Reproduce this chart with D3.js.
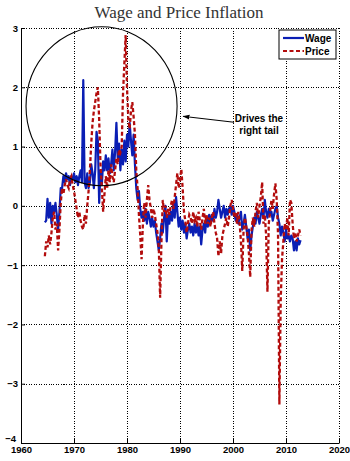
<!DOCTYPE html>
<html>
<head>
<meta charset="utf-8">
<script src="https://cdn.jsdelivr.net/npm/d3@7"></script>
<style>
  html, body { margin: 0; padding: 0; background: #fff; }
  svg { display: block; }
  .tick text { font-family: "Liberation Sans", Arial, sans-serif; font-weight: bold; font-size: 9.5px; fill: #000; }
</style>
</head>
<body>
<div id="chart"></div>
<script>
// quarterly series, first value at the start year
const wageStart = 1964.5;
const wageValues = [
  -0.28, -0.25,
  0.12, -0.2, 0.05, -0.3,
  0.0, -0.1, 0.05, -0.15,
  -0.4, -0.1, 0.3, 0.3,
  0.5, 0.4, 0.55, 0.45,
  0.5, 0.35, 0.5, 0.45,
  0.55, 0.4, 0.5, 0.35,
  0.5, 0.6, 0.4, 2.12,
  0.4, 0.3, 0.55, 0.3,
  0.4, 0.7, 0.55, 0.3,
  0.6, 1.25, 1.1, 0.05,
  0.6, 0.35, 0.75, 0.6,
  0.85, 0.6, 0.8, 0.55,
  0.7, 0.95, 0.6, 0.9,
  1.4, 0.8, 1.05, 0.6,
  0.95, 0.7, 1.1, 0.75,
  1.2, 1.0, 1.4, 1.1,
  0.85, 1.2, 0.7, 0.3,
  0.1, 0.25, -0.05, -0.2,
  -0.1, -0.25, -0.05, -0.3,
  -0.1, -0.2, -0.35, -0.2,
  -0.35, -0.25, -0.45, -0.6,
  -0.75, -0.55, -0.3, -0.45,
  -0.2, 0.0, -0.6, -0.15,
  -0.3, -0.1, -0.25, 0.05,
  -0.2, 0.15, -0.1, -0.35,
  -0.2, -0.4, -0.25, -0.45,
  -0.3, -0.55, -0.4, -0.3,
  -0.45, -0.35, -0.5, -0.3,
  -0.45, -0.3, -0.5, -0.35,
  -0.65, -0.4, -0.3, -0.45,
  -0.2, -0.35, -0.15, -0.3,
  -0.15, -0.25, -0.05, -0.2,
  -0.1, 0.1, -0.05, -0.2,
  -0.1, 0.0, -0.2, -0.05,
  -0.15, -0.05, 0.0, -0.15,
  0.0, -0.1, -0.25, -0.15,
  -0.3, -0.2, -0.1, -0.4,
  -0.3, -0.15, -0.35, -0.55,
  -0.4, -0.75, -0.5, -0.35,
  -0.2, -0.3, -0.1, -0.2,
  -0.3, -0.15, -0.05, -0.2,
  0.1, -0.1, -0.2, -0.05,
  -0.15, -0.1, -0.25, -0.15,
  -0.05, 0.0, -0.2, -0.3,
  -0.5, -0.35, -0.45, -0.6,
  -0.4, -0.55, -0.5, -0.6,
  -0.5, -0.55, -0.75, -0.6,
  -0.75, -0.55, -0.65, -0.58
];

const priceStart = 1964.5;
const priceValues = [
  -0.85, -0.6,
  -0.7, -0.5, -0.65, -0.45,
  -0.2, -0.1, -0.4, -0.3,
  -0.75, -0.4, 0.05, 0.3,
  0.2, 0.35, 0.45, 0.35,
  0.3, 0.45, 0.5, 0.35,
  0.25, 0.1, -0.05, -0.2,
  -0.1, -0.25, -0.35, -0.4,
  -0.15, -0.3, 0.0, 0.25,
  0.6, 1.05, 1.4, 1.6,
  1.75, 1.9, 2.0, 1.45,
  0.7, 0.3, -0.1, 0.2,
  0.5, 0.3, 0.6, 0.4,
  0.7, 0.5, 0.4, 0.6,
  0.8, 0.7, 0.95, 0.9,
  1.0, 1.9, 2.4, 2.88,
  2.0, 1.45, 1.3, 1.6,
  1.75, 1.5, 1.2, 0.6,
  0.3, -0.15, -0.5, -0.9,
  -0.3, 0.05, -0.2, 0.1,
  0.35, 0.1, -0.05, -0.2,
  -0.05, -0.15, -0.3, -0.45,
  -0.7, -1.55, -0.6, 0.1,
  -0.1, 0.0, -0.2, -0.05,
  -0.15, 0.0, 0.1, -0.05,
  0.15, 0.35, 0.55, 0.3,
  0.45, 0.62, 0.3, -0.1,
  -0.25, -0.45, -0.3, -0.15,
  -0.2, -0.3, -0.1, -0.25,
  -0.2, -0.35, -0.1, -0.25,
  -0.4, -0.2, -0.05, -0.3,
  -0.15, -0.3, -0.2, -0.35,
  -0.2, -0.1, -0.3, -0.45,
  -0.55, -0.85, -0.6, -0.8,
  -0.5, -0.4, -0.3, -0.2,
  -0.35, -0.2, 0.0, 0.1,
  -0.05, -0.2, -0.1, -0.3,
  -0.1, -0.3, -0.6, -1.1,
  -0.4, -0.2, -0.35, -0.5,
  -0.8, -1.2, -0.4, -0.2,
  -0.35, -0.1, 0.05, -0.2,
  0.0, 0.15, 0.4, -0.3,
  -0.15, -0.5, -1.45, -0.3,
  -0.1, 0.1, -0.05, 0.2,
  0.38, 0.1, -0.5, -3.35,
  -1.6, -0.9, -0.6, -0.3,
  -0.4, -0.2, -0.5, 0.1,
  0.05, -0.3, -0.55, -0.45,
  -0.6, -0.5, -0.4, -0.5
];

const xTicks = [1960, 1970, 1980, 1990, 2000, 2010, 2020];
const yTicks = [-4, -3, -2, -1, 0, 1, 2, 3];

// annotation in data units
const circleCenter = [1975.2, 1.68];
const circleRadius = [14.25, 1.34];
const arrowFrom = [2000.2, 1.41];
const arrowTo = [1990.6, 1.51];
const noteLines = ['Drives the', 'right tail'];
const noteAt = [2004.9, 1.41];

const W = 350, H = 461;
const x = d3.scaleLinear().domain([1960, 2020]).range([21, 339]);
const y = d3.scaleLinear().domain([-4, 3]).range([443, 28]);

const svg = d3.select('#chart').append('svg')
  .attr('width', W)
  .attr('height', H);

svg.append('defs').append('marker')
  .attr('id', 'head')
  .attr('viewBox', '0 0 10 10')
  .attr('refX', 9).attr('refY', 5)
  .attr('markerWidth', 7).attr('markerHeight', 7)
  .attr('orient', 'auto')
  .append('path')
  .attr('d', 'M0,1.5 L10,5 L0,8.5 Z')
  .attr('fill', '#000');

svg.append('text')
  .attr('x', 179).attr('y', 17.5)
  .attr('text-anchor', 'middle')
  .attr('font-family', '"Liberation Serif", "Times New Roman", serif')
  .attr('font-size', 17)
  .attr('fill', '#333')
  .text('Wage and Price Inflation');

// grid
const grid = svg.append('g').attr('class', 'grid')
  .attr('stroke', '#000').attr('stroke-width', 1)
  .attr('stroke-dasharray', '1,1.5')
  .attr('shape-rendering', 'crispEdges');
grid.selectAll('.vg').data(xTicks.filter(d => d > 1960)).enter()
  .append('line')
  .attr('x1', d => Math.round(x(d)) + 0.5).attr('x2', d => Math.round(x(d)) + 0.5)
  .attr('y1', y(3)).attr('y2', y(-4));
grid.selectAll('.hg').data(yTicks.filter(d => d > -4)).enter()
  .append('line')
  .attr('x1', x(1960)).attr('x2', x(2020))
  .attr('y1', d => Math.round(y(d)) + 0.5).attr('y2', d => Math.round(y(d)) + 0.5);

// axes
svg.append('g')
  .attr('transform', `translate(0,${y(-4)})`)
  .call(d3.axisBottom(x).tickValues(xTicks).tickFormat(d3.format('d')).tickSizeInner(-4).tickSizeOuter(0).tickPadding(3))
  .call(g => g.select('.domain').attr('stroke', '#000'));

svg.append('g')
  .attr('transform', `translate(${x(1960)},0)`)
  .call(d3.axisLeft(y).tickValues(yTicks).tickFormat(d => d < 0 ? '\u2212' + Math.abs(d) : d).tickSizeInner(-4).tickSizeOuter(0).tickPadding(3))
  .call(g => g.select('.domain').attr('stroke', '#000'))
  // the bottom label sits just above the year row
  .call(g => g.selectAll('.tick').filter(d => d === -4).select('text').attr('dy', '-0.15em').attr('x', -5));

// series
const toPoints = (start, vals) => vals.map((v, i) => [start + i * 0.25, v]);
const line = d3.line().x(d => x(d[0])).y(d => y(d[1]));

svg.append('path')
  .datum(toPoints(wageStart, wageValues))
  .attr('fill', 'none')
  .attr('stroke', '#0a1eb4')
  .attr('stroke-width', 2.2)
  .attr('stroke-linejoin', 'round')
  .attr('d', line);

svg.append('path')
  .datum(toPoints(priceStart, priceValues))
  .attr('fill', 'none')
  .attr('stroke', '#b30c0c')
  .attr('stroke-width', 2.3)
  .attr('stroke-dasharray', '4,2.5')
  .attr('d', line);

// annotation
svg.append('ellipse')
  .attr('cx', x(circleCenter[0])).attr('cy', y(circleCenter[1]))
  .attr('rx', x(circleCenter[0] + circleRadius[0]) - x(circleCenter[0]))
  .attr('ry', y(circleCenter[1] - circleRadius[1]) - y(circleCenter[1]))
  .attr('fill', 'none').attr('stroke', '#000').attr('stroke-width', 1.1);

svg.append('line')
  .attr('x1', x(arrowFrom[0])).attr('y1', y(arrowFrom[1]))
  .attr('x2', x(arrowTo[0])).attr('y2', y(arrowTo[1]))
  .attr('stroke', '#000').attr('stroke-width', 1)
  .attr('marker-end', 'url(#head)');

svg.append('text')
  .attr('x', x(noteAt[0])).attr('y', y(noteAt[1]))
  .attr('text-anchor', 'middle')
  .attr('font-family', '"Liberation Sans", Arial, sans-serif')
  .attr('font-weight', 'bold').attr('font-size', 10)
  .selectAll('tspan').data(noteLines).enter()
  .append('tspan')
  .attr('x', x(noteAt[0]))
  .attr('dy', (d, i) => i === 0 ? 0 : 11.5)
  .text(d => d);

// legend
const legend = svg.append('g').attr('transform', 'translate(279,30)');
legend.append('rect')
  .attr('width', 57).attr('height', 29)
  .attr('fill', '#fff').attr('stroke', '#000').attr('stroke-width', 1);
const legendItems = [
  { name: 'Wage', color: '#0a1eb4', dash: null },
  { name: 'Price', color: '#b30c0c', dash: '4,2.5' }
];
legendItems.forEach((d, i) => {
  const yy = 8 + i * 13;
  legend.append('line')
    .attr('x1', 4).attr('x2', 25).attr('y1', yy).attr('y2', yy)
    .attr('stroke', d.color).attr('stroke-width', 2.2)
    .attr('stroke-dasharray', d.dash);
  legend.append('text')
    .attr('x', 26).attr('y', yy + 3.5)
    .attr('font-family', '"Liberation Sans", Arial, sans-serif')
    .attr('font-weight', 'bold').attr('font-size', 10)
    .text(d.name);
});
</script>
</body>
</html>
